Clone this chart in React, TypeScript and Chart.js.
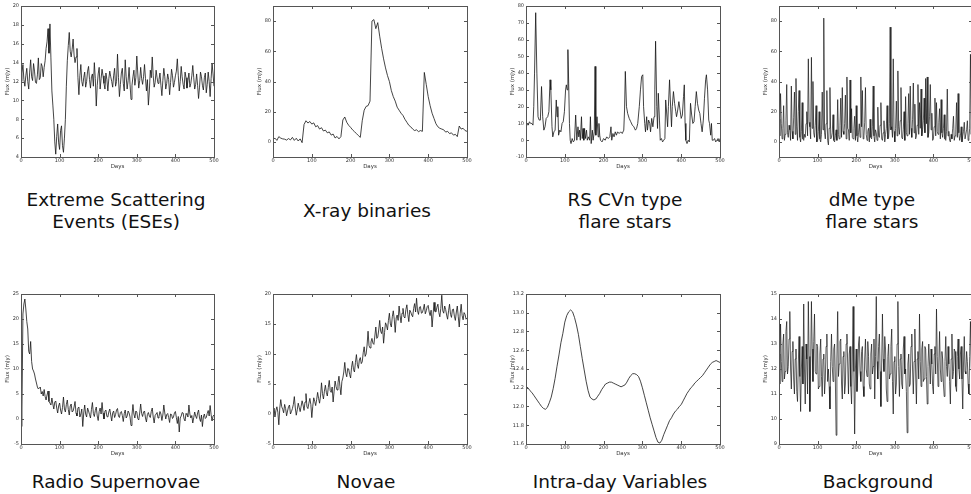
import React, { useEffect, useRef } from "react";
import { Chart, registerables } from "chart.js";
Chart.register(...registerables);

const DAYS5 = [0,5,10,15,20,25,30,35,40,45,50,55,60,65,70,75,80,85,90,95,100,105,110,115,120,125,130,135,140,145,150,155,160,165,170,175,180,185,190,195,200,205,210,215,220,225,230,235,240,245,250,255,260,265,270,275,280,285,290,295,300,305,310,315,320,325,330,335,340,345,350,355,360,365,370,375,380,385,390,395,400,405,410,415,420,425,430,435,440,445,450,455,460,465,470,475,480,485,490,495,500];
const DAYS25 = [0,2.5,5,7.5,10,12.5,15,17.5,20,22.5,25,27.5,30,32.5,35,37.5,40,42.5,45,47.5,50,52.5,55,57.5,60,62.5,65,67.5,70,72.5,75,77.5,80,82.5,85,87.5,90,92.5,95,97.5,100,102.5,105,107.5,110,112.5,115,117.5,120,122.5,125,127.5,130,132.5,135,137.5,140,142.5,145,147.5,150,152.5,155,157.5,160,162.5,165,167.5,170,172.5,175,177.5,180,182.5,185,187.5,190,192.5,195,197.5,200,202.5,205,207.5,210,212.5,215,217.5,220,222.5,225,227.5,230,232.5,235,237.5,240,242.5,245,247.5,250,252.5,255,257.5,260,262.5,265,267.5,270,272.5,275,277.5,280,282.5,285,287.5,290,292.5,295,297.5,300,302.5,305,307.5,310,312.5,315,317.5,320,322.5,325,327.5,330,332.5,335,337.5,340,342.5,345,347.5,350,352.5,355,357.5,360,362.5,365,367.5,370,372.5,375,377.5,380,382.5,385,387.5,390,392.5,395,397.5,400,402.5,405,407.5,410,412.5,415,417.5,420,422.5,425,427.5,430,432.5,435,437.5,440,442.5,445,447.5,450,452.5,455,457.5,460,462.5,465,467.5,470,472.5,475,477.5,480,482.5,485,487.5,490,492.5,495,497.5,500];
const DAYS2 = [0,2,4,6,8,10,12,14,16,18,20,22,24,26,28,30,32,34,36,38,40,42,44,46,48,50,52,54,56,58,60,62,64,66,68,70,72,74,76,78,80,82,84,86,88,90,92,94,96,98,100,102,104,106,108,110,112,114,116,118,120,122,124,126,128,130,132,134,136,138,140,142,144,146,148,150,152,154,156,158,160,162,164,166,168,170,172,174,176,178,180,182,184,186,188,190,192,194,196,198,200,202,204,206,208,210,212,214,216,218,220,222,224,226,228,230,232,234,236,238,240,242,244,246,248,250,252,254,256,258,260,262,264,266,268,270,272,274,276,278,280,282,284,286,288,290,292,294,296,298,300,302,304,306,308,310,312,314,316,318,320,322,324,326,328,330,332,334,336,338,340,342,344,346,348,350,352,354,356,358,360,362,364,366,368,370,372,374,376,378,380,382,384,386,388,390,392,394,396,398,400,402,404,406,408,410,412,414,416,418,420,422,424,426,428,430,432,434,436,438,440,442,444,446,448,450,452,454,456,458,460,462,464,466,468,470,472,474,476,478,480,482,484,486,488,490,492,494,496,498,500];

const ESE_FLUX = [12.0,12.9,13.8,12.2,11.5,12.6,13.4,12.0,11.2,13.0,14.3,12.5,12.1,13.9,13.1,11.9,11.8,12.7,14.5,12.2,12.4,13.9,13.6,12.5,13.5,14.2,15.5,16.2,17.6,15.0,18.1,14.5,11.0,9.5,8.0,5.6,4.3,6.2,7.5,5.5,4.8,6.8,7.3,5.2,4.5,6.0,8.0,11.5,14.2,15.8,17.2,15.2,14.6,15.4,16.5,14.8,14.0,14.6,15.5,12.4,10.6,12.6,13.8,12.0,11.5,12.4,13.0,11.4,12.0,13.1,13.6,12.2,11.3,12.5,12.8,11.5,14.0,12.3,9.4,11.6,12.8,13.5,11.2,12.3,13.3,12.6,11.8,11.2,12.9,12.2,11.0,12.3,13.1,12.5,12.0,11.4,12.6,13.4,11.5,12.0,14.9,12.4,10.4,11.7,12.9,13.4,11.8,11.0,14.3,12.5,11.2,12.1,13.5,11.7,10.1,11.6,12.5,13.2,11.6,12.4,14.7,12.9,11.3,12.1,13.5,12.3,11.7,12.5,13.8,12.3,11.0,12.2,9.5,11.0,13.2,12.4,14.6,12.6,11.4,11.9,13.2,12.4,11.8,12.2,12.9,11.6,10.5,12.1,13.4,12.5,11.2,11.8,12.8,12.2,10.6,11.9,13.3,12.6,11.4,11.9,12.6,13.1,14.4,12.6,11.0,12.0,13.6,12.5,11.7,11.2,13.0,12.4,11.3,12.1,12.9,11.4,11.8,12.6,13.7,12.4,11.2,11.7,12.8,11.6,10.2,11.4,13.0,12.5,11.6,11.1,12.4,12.9,10.8,11.7,13.0,12.0,10.4,12.3,13.9,12.8,11.5];

const XRAY_FLUX = [1.5,2.5,1.0,3.5,2.5,2.0,1.8,1.2,2.2,1.3,3.0,1.0,2.4,0.6,2.0,-0.5,11.5,14.0,12.5,13.5,11.8,12.6,10.0,10.8,8.5,9.4,7.2,7.8,6.0,6.6,4.5,5.2,2.6,3.6,2.0,3.5,14.5,16.5,13.0,11.0,9.6,8.0,6.8,5.5,4.2,3.0,14.0,21.0,23.5,24.0,27.0,80.0,81.0,75.0,79.0,70.0,62.0,55.0,49.0,44.0,40.0,34.0,30.0,27.0,23.0,21.0,19.0,17.5,15.0,13.0,11.0,10.0,8.5,7.5,8.0,6.8,7.5,7.0,46.0,38.0,30.0,24.0,19.0,15.5,12.0,10.0,9.0,8.5,8.0,6.5,7.0,5.5,6.0,4.5,5.0,3.5,10.5,8.5,9.0,7.5,7.0];

const RSCVN_DAYS = [0,3,6,9,12,15,18,20,22,25,28,31,34,37,40,43,46,49,52,56,59,62,64,67,69,72,75,78,80,82,84,87,90,93,96,99,102,104,106,108,110,112,114,116,119,122,125,128,131,134,136,138,140,143,145,147,149,151,153,156,158,161,164,166,168,171,173,176,178,180,183,186,188,190,192,196,200,204,208,212,216,219,221,224,227,230,233,236,240,244,248,252,254,256,259,262,266,270,274,278,282,285,288,292,295,298,301,303,306,308,311,313,316,319,321,324,327,330,332,334,337,339,341,344,346,349,352,355,358,360,362,365,367,370,372,375,377,380,383,386,388,391,394,397,400,403,406,408,410,412,415,418,421,424,427,430,433,436,439,442,445,448,451,454,457,460,463,465,468,471,473,476,478,480,483,486,489,492,495,498,500];
const RSCVN_FLUX = [7,10,9,11,10,10,9,20,40,76,40,14,12,12,32,14,6,8,13,14,17,36,30,8,2,5,6,24,14,20,3,6,5,10,11,17,30,33,30,54,34,10,0,-2,1,-1,0,15,0,8,2,6,0,14,1,7,0,7,1,6,0,2,0,14,-2,6,0,5,44,3,14,2,10,3,0,-1,1,0,2,1,2,8,0,4,2,5,3,5,4,5,4,6,18,41,20,16,13,11,9,8,6,7,10,20,30,38,39,20,10,5,14,6,12,10,5,13,8,14,30,59,20,7,28,12,0,1,-1,0,1,24,18,8,20,36,24,8,20,29,22,17,14,18,23,18,13,15,26,33,10,0,-2,0,-1,22,15,10,11,20,29,22,18,16,10,5,12,25,36,39,30,12,10,3,10,0,0,1,-1,0,1,-1,1];

const DME_FLUX = [15,4,32,12,2,9,24,1,5,14,38,6,3,11,8,1,37,7,2,16,33,5,42,10,1,20,34,3,0,7,26,2,1,5,3,12,20,4,55,13,10,2,56,9,40,6,3,11,24,0,1,7,20,2,0,5,33,8,82,6,2,12,34,1,-2,9,36,2,3,6,18,1,0,4,8,1,28,5,2,11,29,3,36,7,5,12,31,2,43,9,8,1,41,6,22,3,2,9,17,1,24,4,0,6,12,3,43,10,34,2,4,13,36,5,1,7,9,0,15,3,2,10,37,4,0,8,6,1,23,4,3,11,26,2,1,6,14,0,5,9,24,2,3,12,76,8,10,3,55,7,0,9,27,4,47,10,5,14,36,3,2,8,20,1,30,6,4,12,32,5,37,9,3,15,39,6,25,2,4,11,38,5,26,9,35,4,8,14,29,6,42,12,43,3,6,17,38,8,19,1,2,10,29,4,26,7,5,13,22,2,28,6,3,9,18,2,1,7,35,4,7,1,0,5,2,9,17,1,4,8,26,3,32,6,1,4,10,0,4,7,13,2,2,8,14,1,3,9,58,5,30];

const SN_FLUX = [-1.5,2.0,21.0,23.0,24.0,22.0,19.5,18.0,13.5,13.0,15.5,11.5,10.0,9.6,9.0,8.0,7.2,6.4,6.0,6.2,6.4,5.0,5.5,4.6,5.9,4.5,3.8,4.8,5.6,3.5,3.2,2.8,4.2,3.0,2.0,3.4,3.6,2.2,1.2,2.6,3.2,1.8,1.0,2.3,4.4,2.0,1.4,2.9,3.8,1.9,0.8,2.6,3.0,1.4,1.6,2.4,3.5,1.2,0.6,2.2,2.4,0.4,1.0,2.0,-1.5,1.2,2.8,1.0,0.4,2.2,1.6,0.9,0.2,1.9,3.3,1.1,0.5,1.7,2.4,0.6,-0.3,1.5,2.2,1.0,3.3,1.2,0.0,1.6,1.8,0.5,0.4,1.4,2.0,0.8,-0.4,1.2,1.6,0.3,0.9,1.8,2.1,0.6,0.3,1.3,1.5,0.7,-0.5,1.1,1.8,0.2,0.6,1.6,1.2,0.4,-1.3,0.8,2.9,1.0,0.2,1.6,1.4,0.1,-0.2,1.2,3.0,1.1,0.5,1.4,1.6,0.2,-0.6,0.9,1.3,0.6,0.3,1.5,2.2,0.4,-0.8,0.7,1.0,1.3,0.2,0.5,1.5,1.0,-0.3,0.8,2.8,1.2,0.0,0.9,1.1,0.3,-0.7,1.0,0.9,0.1,0.4,1.2,1.5,0.3,-0.9,0.5,-2.6,0.2,0.6,1.3,1.2,0.0,-0.4,1.1,0.9,0.4,2.8,1.0,0.2,0.7,-0.8,0.3,1.4,0.6,0.1,1.2,1.8,0.2,-0.5,0.8,-1.5,0.4,1.0,0.1,0.3,1.1,1.7,0.6,2.7,0.9,-0.4,0.6,0.8];

const NOVA_FLUX = [0.2,1.0,-0.5,0.6,1.2,0.3,-1.8,1.0,2.4,1.2,0.8,0.2,1.6,0.9,-0.3,0.5,1.2,1.5,0.0,0.4,0.9,1.6,2.9,1.0,-0.2,0.7,1.8,1.1,0.4,1.3,2.2,1.5,0.6,2.0,3.4,1.2,0.9,1.8,2.6,1.6,-0.6,1.3,2.7,2.1,1.4,2.4,3.6,2.6,1.8,3.0,5.2,3.4,2.5,3.8,4.8,3.6,3.0,4.4,5.6,3.9,3.6,4.5,2.0,3.8,5.5,4.6,4.0,5.2,6.3,4.6,3.2,5.4,6.0,7.0,8.6,6.8,6.2,7.6,7.5,6.6,6.0,7.8,8.8,7.4,7.0,8.6,9.9,8.2,7.6,9.0,9.4,8.4,8.7,10.2,11.2,9.6,10.0,11.5,13.8,11.4,11.0,12.0,12.6,11.8,11.6,13.0,14.5,12.6,12.8,14.0,15.6,13.8,13.4,14.5,11.8,13.6,15.2,14.8,14.0,15.6,16.8,15.0,14.5,16.2,17.2,15.8,13.6,16.0,16.5,15.6,18.0,16.4,15.2,16.8,17.6,16.2,16.0,17.4,18.2,16.6,15.4,17.3,17.0,16.5,16.2,17.6,18.4,17.0,19.3,17.2,16.6,17.8,17.9,16.8,16.9,17.5,18.3,16.7,17.2,17.9,18.1,17.0,16.4,17.3,14.5,16.5,18.6,17.1,17.0,17.8,18.3,16.9,16.2,17.6,19.8,17.2,16.8,18.0,17.4,16.5,15.8,17.2,18.3,16.6,16.1,17.4,17.5,16.3,15.6,17.0,18.0,16.2,14.5,16.8,18.3,16.4,15.7,16.9,16.6,15.8,16.0];

const IDV_FLUX = [12.21,12.20,12.17,12.15,12.12,12.09,12.06,12.03,12.00,11.98,11.97,11.99,12.04,12.10,12.19,12.30,12.43,12.55,12.68,12.78,12.90,12.97,13.01,13.03,13.01,12.95,12.87,12.77,12.64,12.51,12.39,12.27,12.17,12.10,12.08,12.07,12.08,12.11,12.14,12.18,12.21,12.24,12.25,12.26,12.26,12.25,12.24,12.23,12.22,12.21,12.22,12.23,12.26,12.30,12.33,12.35,12.35,12.34,12.32,12.27,12.20,12.12,12.04,11.96,11.88,11.81,11.74,11.67,11.62,11.61,11.64,11.70,11.75,11.80,11.85,11.88,11.92,11.95,11.97,12.00,12.02,12.06,12.10,12.14,12.17,12.20,12.22,12.25,12.27,12.29,12.31,12.33,12.36,12.39,12.42,12.45,12.47,12.48,12.49,12.48,12.47];

const BG_FLUX = [12.6,11.4,13.8,12.3,11.5,13.0,13.4,11.6,11.9,13.5,13.9,11.8,12.1,13.2,14.3,12.0,11.2,12.7,13.1,11.6,11.0,12.4,12.8,11.1,10.7,12.2,13.3,11.7,10.3,12.0,12.9,11.4,14.6,12.0,10.6,13.0,12.4,11.0,14.7,12.5,10.3,12.2,14.7,12.8,11.5,13.1,14.2,11.9,11.8,13.0,12.9,11.2,11.3,12.6,13.2,11.7,10.9,12.4,12.6,11.0,11.6,12.9,13.4,11.5,12.0,11.3,10.4,12.3,13.4,12.1,11.5,12.8,13.0,11.6,9.35,12.4,14.3,11.7,12.2,13.1,13.2,11.4,10.8,12.5,12.7,11.0,11.4,13.0,13.4,12.2,11.0,12.6,12.9,11.3,10.6,12.4,14.5,11.9,9.4,12.0,12.8,11.1,11.8,13.0,13.3,11.9,11.5,12.7,12.9,11.3,10.9,12.4,13.2,12.0,11.7,13.1,12.5,11.4,11.2,12.6,13.0,11.8,12.1,13.2,10.8,12.5,14.9,12.3,11.6,12.9,13.4,11.9,10.5,12.2,14.2,12.4,11.9,13.3,12.8,11.2,10.7,12.5,13.0,11.6,11.8,12.9,13.6,11.5,10.2,12.3,12.5,11.0,11.4,13.0,14.7,12.1,10.9,12.4,12.6,11.4,11.2,12.8,13.3,11.8,12.0,11.1,9.45,12.2,12.6,11.3,11.4,12.9,13.4,12.0,11.0,12.3,13.6,11.8,10.6,12.4,12.7,11.6,14.2,12.3,11.3,12.8,13.1,11.5,11.6,12.9,12.8,11.7,10.6,12.1,13.0,12.2,11.4,12.8,12.2,11.3,11.0,12.6,12.9,11.8,14.4,12.5,11.3,12.2,13.5,12.0,11.5,12.7,12.4,11.4,10.9,12.3,13.3,12.1,11.7,12.9,12.2,11.5,10.6,12.4,13.4,11.6,11.9,12.8,12.7,11.3,11.1,12.5,13.2,12.0,11.6,12.6,12.9,11.6,10.4,12.2,13.3,11.9,11.8,12.7,12.3,11.4,11.0,12.5,13.9,12.1,11.6];

const X_TICKS = [0, 100, 200, 300, 400, 500];
const ESE_TICKS = [4, 6, 8, 10, 12, 14, 16, 18, 20];
const XRAY_TICKS = [0, 20, 40, 60, 80];
const RSCVN_TICKS = [-10, 0, 10, 20, 30, 40, 50, 60, 70, 80];
const DME_TICKS = [0, 20, 40, 60, 80];
const SN_TICKS = [-5, 0, 5, 10, 15, 20, 25];
const NOVA_TICKS = [-5, 0, 5, 10, 15, 20];
const IDV_TICKS = [11.6, 11.8, 12.0, 12.2, 12.4, 12.6, 12.8, 13.0, 13.2];
const BG_TICKS = [9, 10, 11, 12, 13, 14, 15];

const FONT = "'DejaVu Sans', sans-serif";
const PAD_L = 22;
const PAD_T = 6;
const PAD_R = 8;
const X_H = 13;

type PanelProps = {
  left: number; right: number; top: number; bottom: number;
  days: number[]; flux: number[];
  yMin: number; yMax: number; yTicks: number[]; decimals: number; lw?: number;
};

const framePlugin = {
  id: "frameTicks",
  afterDatasetsDraw(chart: any) {
    const { ctx, chartArea } = chart;
    const { left, right, top, bottom } = chartArea;
    const xs = chart.scales.x;
    const ys = chart.scales.y;
    ctx.save();
    ctx.strokeStyle = "#555";
    ctx.lineWidth = 1;
    ctx.strokeRect(Math.round(left) + 0.5, Math.round(top) + 0.5, Math.round(right - left), Math.round(bottom - top));
    ctx.beginPath();
    xs.ticks.forEach((t: any) => {
      const px = Math.round(xs.getPixelForValue(t.value)) + 0.5;
      ctx.moveTo(px, bottom); ctx.lineTo(px, bottom - 3);
      ctx.moveTo(px, top); ctx.lineTo(px, top + 3);
    });
    ys.ticks.forEach((t: any) => {
      const py = Math.round(ys.getPixelForValue(t.value)) + 0.5;
      ctx.moveTo(left, py); ctx.lineTo(left + 3, py);
      ctx.moveTo(right, py); ctx.lineTo(right - 3, py);
    });
    ctx.stroke();
    ctx.restore();
  },
};

function Panel(p: PanelProps) {
  const ref = useRef<HTMLCanvasElement>(null);
  const w = p.right - p.left + PAD_L + PAD_R;
  const h = p.bottom - p.top + PAD_T + X_H;
  useEffect(() => {
    if (!ref.current) return;
    const pts = p.days.map((d, i) => ({ x: d, y: p.flux[i] })).filter((q) => q.y !== undefined);
    const chart = new Chart(ref.current, {
      type: "line",
      data: {
        datasets: [{
          data: pts,
          borderColor: "#151515",
          borderWidth: p.lw ?? 0.8,
          pointRadius: 0,
          tension: 0,
          fill: false,
        }],
      },
      options: {
        animation: false,
        responsive: false,
        devicePixelRatio: 1,
        events: [],
        layout: { padding: { left: 0, top: PAD_T, right: PAD_R, bottom: 0 } },
        plugins: { legend: { display: false }, tooltip: { enabled: false } },
        scales: {
          x: {
            type: "linear",
            min: 0,
            max: 500,
            grid: { display: false, drawTicks: false },
            border: { display: false },
            afterBuildTicks: (axis: any) => { axis.ticks = X_TICKS.map((v) => ({ value: v })); },
            afterFit: (axis: any) => { axis.height = X_H; },
            ticks: {
              autoSkip: false, maxRotation: 0, padding: 1, color: "#333",
              font: { family: FONT, size: 5 },
              callback: (v: any) => String(v),
            },
            title: { display: true, text: "Days", color: "#333", padding: 0, font: { family: FONT, size: 5.5 } },
          },
          y: {
            type: "linear",
            min: p.yMin,
            max: p.yMax,
            grid: { display: false, drawTicks: false },
            border: { display: false },
            afterBuildTicks: (axis: any) => { axis.ticks = p.yTicks.map((v) => ({ value: v })); },
            afterFit: (axis: any) => { axis.width = PAD_L; },
            ticks: {
              autoSkip: false, padding: 2, color: "#333",
              font: { family: FONT, size: 5 },
              callback: (v: any) => Number(v).toFixed(p.decimals),
            },
            title: { display: true, text: "Flux (mJy)", color: "#333", padding: { top: 5.7, bottom: 0 }, font: { family: FONT, size: 5.5 } },
          },
        },
      },
      plugins: [framePlugin],
    });
    return () => chart.destroy();
  }, []);
  return (
    <canvas
      ref={ref}
      width={w}
      height={h}
      style={{ position: "absolute", left: p.left - PAD_L, top: p.top - PAD_T, width: w, height: h }}
    />
  );
}

function Title({ cx, top, lines }: { cx: number; top: number; lines: string[] }) {
  return (
    <div
      style={{
        position: "absolute", left: cx - 130, top, width: 260, textAlign: "center",
        fontFamily: FONT, fontSize: 18.5, lineHeight: "22px", color: "#111", whiteSpace: "pre",
      }}
    >
      {lines.map((l, i) => <div key={i}>{l}</div>)}
    </div>
  );
}

const COLS = [
  { left: 21, right: 214 },
  { left: 273, right: 467 },
  { left: 526, right: 720 },
  { left: 779, right: 972 },
];
const ROW1 = { top: 6, bottom: 157 };
const ROW2 = { top: 294, bottom: 444 };

export default function App() {
  return (
    <div style={{ position: "fixed", left: 0, top: 0, width: 971, height: 494, overflow: "hidden", background: "#fff" }}>
      <Panel {...COLS[0]} {...ROW1} days={DAYS25} flux={ESE_FLUX} yMin={4} yMax={20} yTicks={ESE_TICKS} decimals={0} />
      <Panel {...COLS[1]} {...ROW1} days={DAYS5} flux={XRAY_FLUX} yMin={-10} yMax={90} yTicks={XRAY_TICKS} decimals={0} />
      <Panel {...COLS[2]} {...ROW1} days={RSCVN_DAYS} flux={RSCVN_FLUX} yMin={-10} yMax={80} yTicks={RSCVN_TICKS} decimals={0} />
      <Panel {...COLS[3]} {...ROW1} days={DAYS2} flux={DME_FLUX} yMin={-10} yMax={90} yTicks={DME_TICKS} decimals={0} lw={0.7} />
      <Panel {...COLS[0]} {...ROW2} days={DAYS25} flux={SN_FLUX} yMin={-5} yMax={25} yTicks={SN_TICKS} decimals={0} />
      <Panel {...COLS[1]} {...ROW2} days={DAYS25} flux={NOVA_FLUX} yMin={-5} yMax={20} yTicks={NOVA_TICKS} decimals={0} />
      <Panel {...COLS[2]} {...ROW2} days={DAYS5} flux={IDV_FLUX} yMin={11.6} yMax={13.2} yTicks={IDV_TICKS} decimals={1} />
      <Panel {...COLS[3]} {...ROW2} days={DAYS2} flux={BG_FLUX} yMin={9} yMax={15} yTicks={BG_TICKS} decimals={0} lw={0.7} />
      <Title cx={116} top={189} lines={["Extreme Scattering", "Events (ESEs)"]} />
      <Title cx={367} top={200} lines={["X-ray binaries"]} />
      <Title cx={625} top={189} lines={["RS CVn type", "flare stars"]} />
      <Title cx={872} top={189} lines={["dMe type", "flare stars"]} />
      <Title cx={116} top={471} lines={["Radio Supernovae"]} />
      <Title cx={366} top={471} lines={["Novae"]} />
      <Title cx={620} top={471} lines={["Intra-day Variables"]} />
      <Title cx={878} top={471} lines={["Background"]} />
    </div>
  );
}
